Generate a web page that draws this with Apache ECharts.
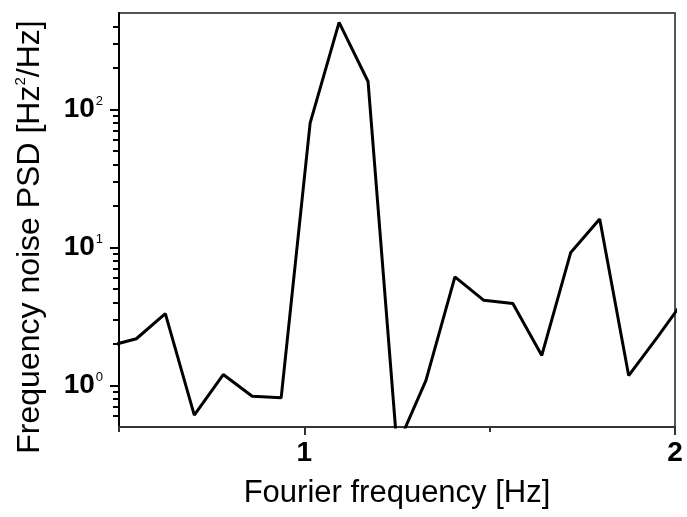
<!DOCTYPE html>
<html>
<head>
<meta charset="utf-8">
<script src="https://cdn.jsdelivr.net/npm/echarts@6/dist/echarts.min.js"></script>
<style>
html,body{margin:0;padding:0;background:#fff;}
#chart{width:687px;height:517px;}
</style>
</head>
<body>
<div id="chart"></div>
<script>
// Fourier frequency [Hz]
const freq = [0.46875, 0.546875, 0.625, 0.703125, 0.78125, 0.859375, 0.9375, 1.015625, 1.09375, 1.171875, 1.25, 1.328125, 1.40625, 1.484375, 1.5625, 1.640625, 1.71875, 1.796875, 1.875, 1.953125, 2.03125];
// Frequency noise PSD [Hz^2/Hz]
const psd = [1.92, 2.18, 3.32, 0.61, 1.20, 0.836, 0.814, 79.5, 428, 159.5, 0.36, 1.09, 6.12, 4.14, 3.92, 1.65, 9.2, 16.1, 1.18, 2.25, 4.4];

const xMajorTicks = [1, 2];
const xMinorTicks = [0.5, 1.5];
const yMajorTicks = [1, 10, 100];
const yMinorTicks = [0.6, 0.7, 0.8, 0.9, 2, 3, 4, 5, 6, 7, 8, 9, 20, 30, 40, 50, 60, 70, 80, 90, 200, 300, 400];

const FONT = '"Liberation Sans", Arial, sans-serif';
const chart = echarts.init(document.getElementById('chart'));

chart.setOption({
  animation: false,
  backgroundColor: '#fff',
  grid: { left: 119, right: 12, top: 13, bottom: 90, show: true, borderColor: '#555', borderWidth: 2, backgroundColor: 'transparent' },
  xAxis: [
    {
      type: 'value', min: 0.5, max: 2, position: 'bottom',
      axisLine: { show: true, lineStyle: { color: '#333', width: 2 } },
      axisTick: { show: true, customValues: xMajorTicks, length: 8, lineStyle: { color: '#333', width: 2 } },
      axisLabel: { show: true, customValues: xMajorTicks, margin: 12, color: '#000', fontFamily: FONT, fontWeight: 'bold', fontSize: 28,
        formatter: v => String(v) },
      splitLine: { show: false },
      name: 'Fourier frequency [Hz]', nameLocation: 'middle', nameGap: 51,
      nameTextStyle: { fontFamily: FONT, fontSize: 31, color: '#000' }
    },
    {
      type: 'value', min: 0.5, max: 2, position: 'bottom',
      axisLine: { show: false },
      axisTick: { show: true, customValues: xMinorTicks, length: 5, lineStyle: { color: '#333', width: 2 } },
      axisLabel: { show: false },
      splitLine: { show: false }
    }
  ],
  yAxis: [
    {
      type: 'log', logBase: 10, min: 0.5, max: 500, position: 'left',
      axisLine: { show: true, lineStyle: { color: '#000', width: 2 } },
      axisTick: { show: true, customValues: yMajorTicks, length: 9, lineStyle: { color: '#000', width: 2 } },
      axisLabel: { show: true, customValues: yMajorTicks, margin: 16, color: '#000', fontFamily: FONT,
        formatter: v => '{b|10}{s|' + Math.round(Math.log10(v)) + '}',
        rich: {
          b: { fontFamily: FONT, fontWeight: 'bold', fontSize: 28, color: '#000', lineHeight: 30 },
          s: { fontFamily: FONT, fontSize: 13, color: '#000', verticalAlign: 'top', lineHeight: 30, padding: [0, 0, 12, 1] }
        } },
      splitLine: { show: false },
      name: '{a|Frequency noise PSD [Hz}{s|2}{a|/Hz]}', nameLocation: 'middle', nameGap: 72, nameRotate: 90,
      nameTextStyle: { fontFamily: FONT, fontSize: 32, color: '#000', padding: [0, 34, 0, 0],
        rich: {
          a: { fontFamily: FONT, fontSize: 32, color: '#000', lineHeight: 34 },
          s: { fontFamily: FONT, fontSize: 15, color: '#000', verticalAlign: 'top', lineHeight: 34, padding: [0, 0, 14, 0] }
        } }
    },
    {
      type: 'log', logBase: 10, min: 0.5, max: 500, position: 'left',
      axisLine: { show: false },
      axisTick: { show: true, customValues: yMinorTicks, length: 6, lineStyle: { color: '#000', width: 2 } },
      axisLabel: { show: false },
      splitLine: { show: false }
    }
  ],
  series: [{
    type: 'line',
    xAxisIndex: 0, yAxisIndex: 0,
    data: freq.map((f, i) => [f, psd[i]]),
    showSymbol: false,
    clip: true,
    lineStyle: { color: '#000', width: 3 }
  }]
});
</script>
</body>
</html>
